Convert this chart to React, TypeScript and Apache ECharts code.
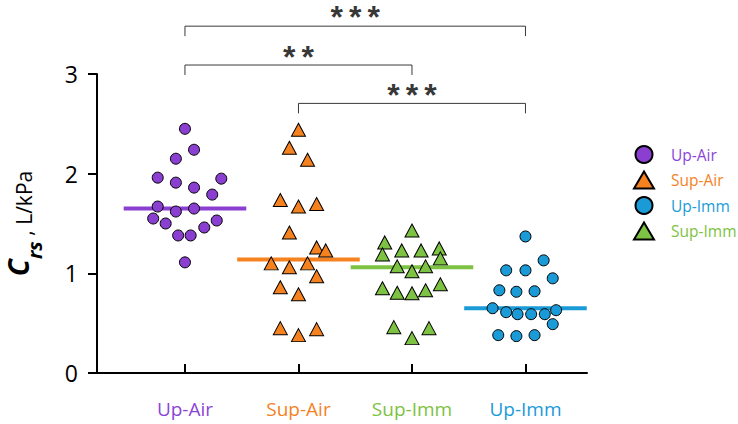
import React, { useEffect, useRef } from "react";
import * as echarts from "echarts";

const categories = ["Up-Air", "Sup-Air", "Sup-Imm", "Up-Imm"];
const catColors = ["#8a3fd1", "#f5821f", "#7dc242", "#1a9bd7"];
const textColors = ["#8b45d6", "#f5821f", "#7dc242", "#1a9bd7"];
const categoryTicks = [1, 2, 3, 4];

// [x position (category index + jitter), Crs value]
const upAir = [
  [1.0, 2.45], [1.08, 2.24], [0.92, 2.15], [0.76, 1.96], [1.32, 1.95], [0.92, 1.91],
  [1.08, 1.86], [1.24, 1.79], [0.76, 1.67], [0.92, 1.62], [1.08, 1.65], [0.72, 1.55],
  [0.83, 1.5], [1.28, 1.53], [1.17, 1.46], [0.94, 1.38], [1.05, 1.38], [1.0, 1.11],
];
const supAir = [
  [2.0, 2.44], [1.92, 2.26], [2.08, 2.14], [1.84, 1.735], [2.0, 1.67], [2.16, 1.695],
  [1.92, 1.41], [2.16, 1.26], [2.24, 1.23], [1.76, 1.1], [1.92, 1.06], [2.08, 1.1],
  [2.16, 0.97], [1.84, 0.86], [2.0, 0.79], [1.84, 0.45], [2.0, 0.38], [2.16, 0.44],
];
const supImm = [
  [3.0, 1.43], [2.76, 1.31], [2.74, 1.19], [2.91, 1.23], [3.08, 1.23], [3.24, 1.25],
  [3.25, 1.15], [2.87, 1.07], [3.12, 1.07], [3.0, 1.02], [2.74, 0.85], [2.87, 0.805],
  [3.0, 0.8], [3.12, 0.83], [3.25, 0.89], [2.84, 0.46], [3.15, 0.45], [3.0, 0.35],
];
const upImm = [
  [4.0, 1.37], [4.16, 1.13], [3.83, 1.03], [4.0, 1.03], [4.24, 0.95], [3.77, 0.83],
  [3.92, 0.815], [4.08, 0.82], [3.71, 0.65], [3.83, 0.61], [3.93, 0.59], [4.05, 0.59],
  [4.17, 0.59], [4.27, 0.63], [4.24, 0.49], [3.76, 0.38], [3.92, 0.37], [4.08, 0.38],
];
const groupData = [upAir, supAir, supImm, upImm];
const groupSymbols = ["circle", "triangle", "triangle", "circle"];
const medians = [1.65, 1.14, 1.06, 0.65];
const medianHalfWidth = 0.54;

// significance brackets: from category, to category, bracket height, drop, star count
const bracketFrom = [1, 1, 2];
const bracketTo = [4, 3, 4];
const bracketTop = [3.48, 3.09, 2.705];
const bracketDrop = [0.1, 0.1, 0.1];
const bracketStars = [3, 2, 3];
const starLift = [0.09, 0.085, 0.08];

const legendOrder = ["Up-Air", "Sup-Air", "Up-Imm", "Sup-Imm"];
const FONT = "'Open Sans', 'Noto Sans', sans-serif";

export default function App() {
  const ref = useRef<HTMLDivElement>(null);
  useEffect(() => {
    if (!ref.current) return;
    const chart = echarts.init(ref.current, null, { renderer: "svg" });

    const series: any[] = [];
    categories.forEach((name, i) => {
      const c = categoryTicks[i];
      series.push({
        name: name + " median",
        type: "line",
        data: [
          [c - medianHalfWidth, medians[i]],
          [c + medianHalfWidth, medians[i]],
        ],
        showSymbol: false,
        symbol: "none",
        silent: true,
        z: 1,
        lineStyle: { color: catColors[i], width: 4 },
      });
    });
    categories.forEach((name, i) => {
      series.push({
        name,
        type: "scatter",
        data: groupData[i],
        symbol: groupSymbols[i],
        symbolSize: groupSymbols[i] === "circle" ? 11 : [14, 13],
        z: 3,
        itemStyle: { color: catColors[i], borderColor: "#000", borderWidth: 1, opacity: 1 },
      });
    });
    bracketFrom.forEach((a, i) => {
      const b = bracketTo[i];
      const y = bracketTop[i];
      const d = bracketDrop[i];
      series.push({
        name: "bracket" + i,
        type: "line",
        data: [
          [a, y - d],
          [a, y],
          [b, y],
          [b, y - d],
        ],
        symbol: "none",
        showSymbol: false,
        clip: false,
        silent: true,
        lineStyle: { color: "#3a3a3a", width: 1 },
      });
    });
    series.push({
      name: "stars",
      type: "scatter",
      clip: false,
      silent: true,
      symbolSize: 1,
      itemStyle: { color: "rgba(0,0,0,0)" },
      data: bracketFrom.map((a, i) => [
        (a + bracketTo[i]) / 2,
        bracketTop[i] + starLift[i],
        bracketStars[i],
      ]),
      label: {
        show: true,
        position: "inside",
        formatter: (p: any) => "{s|*}".repeat(p.value[2]),
        rich: {
          s: {
            color: "#000",
            fontSize: 32,
            fontWeight: "bold",
            fontFamily: "'Liberation Sans', Arial, sans-serif",
            padding: [0, 3, 0, 3],
          },
        },
      },
    });

    const rich: any = {};
    categories.forEach((_, i) => {
      rich["c" + i] = { color: textColors[i], fontSize: 19, fontFamily: FONT };
    });

    chart.setOption({
      animation: false,
      grid: {
        left: 97,
        right: 151,
        top: 74,
        bottom: 51,
        containLabel: false,
        outerBoundsMode: "none",
      },
      legend: {
        orient: "vertical",
        left: 633,
        top: 145,
        padding: 0,
        itemWidth: 20,
        itemHeight: 17,
        itemGap: 6.5,
        selectedMode: false,
        data: legendOrder.map((n) => {
          const i = categories.indexOf(n);
          return {
            name: n,
            icon: groupSymbols[i],
            textStyle: { color: textColors[i] },
          };
        }),
        textStyle: {
          fontSize: 15.5,
          fontFamily: FONT,
          padding: [0, 0, 0, 12],
        },
      },
      xAxis: {
        type: "value",
        min: 0.225,
        max: 4.542,
        splitLine: { show: false },
        axisLine: { show: true, lineStyle: { color: "#000", width: 2 } },
        axisTick: {
          show: true,
          inside: true,
          length: 9,
          lineStyle: { color: "#000", width: 2 },
          customValues: categoryTicks,
        },
        axisLabel: {
          show: true,
          margin: 26,
          customValues: categoryTicks,
          formatter: (v: number) => {
            const i = categoryTicks.indexOf(Math.round(v));
            return i >= 0 ? `{c${i}|${categories[i]}}` : "";
          },
          rich,
        },
      },
      yAxis: {
        type: "value",
        min: 0,
        max: 3,
        interval: 1,
        splitLine: { show: false },
        axisLine: { show: true, lineStyle: { color: "#000", width: 2 } },
        axisTick: { show: true, length: 9, lineStyle: { color: "#000", width: 2 } },
        axisLabel: { color: "#000", fontSize: 23, margin: 19, fontFamily: FONT },
        name: "{c|C}{s|rs}{n| , L/kPa}",
        nameLocation: "middle",
        nameRotate: 90,
        nameGap: 53,
        nameTextStyle: {
          rich: {
            c: {
              fontSize: 28,
              fontWeight: "bold",
              fontStyle: "italic",
              fontFamily: FONT,
              color: "#000",
              verticalAlign: "bottom",
              padding: [0, 0, 12, 0],
            },
            s: {
              fontSize: 20,
              fontWeight: "bold",
              fontStyle: "italic",
              fontFamily: FONT,
              color: "#000",
              verticalAlign: "bottom",
            },
            n: {
              fontSize: 21,
              fontFamily: FONT,
              color: "#000",
              verticalAlign: "bottom",
              padding: [0, 0, 10, 0],
            },
          },
        },
      },
      series,
    });
    return () => chart.dispose();
  }, []);
  return (
    <div
      ref={ref}
      style={{ position: "fixed", left: 0, top: 0, width: 738, height: 424, background: "#fff" }}
    />
  );
}
